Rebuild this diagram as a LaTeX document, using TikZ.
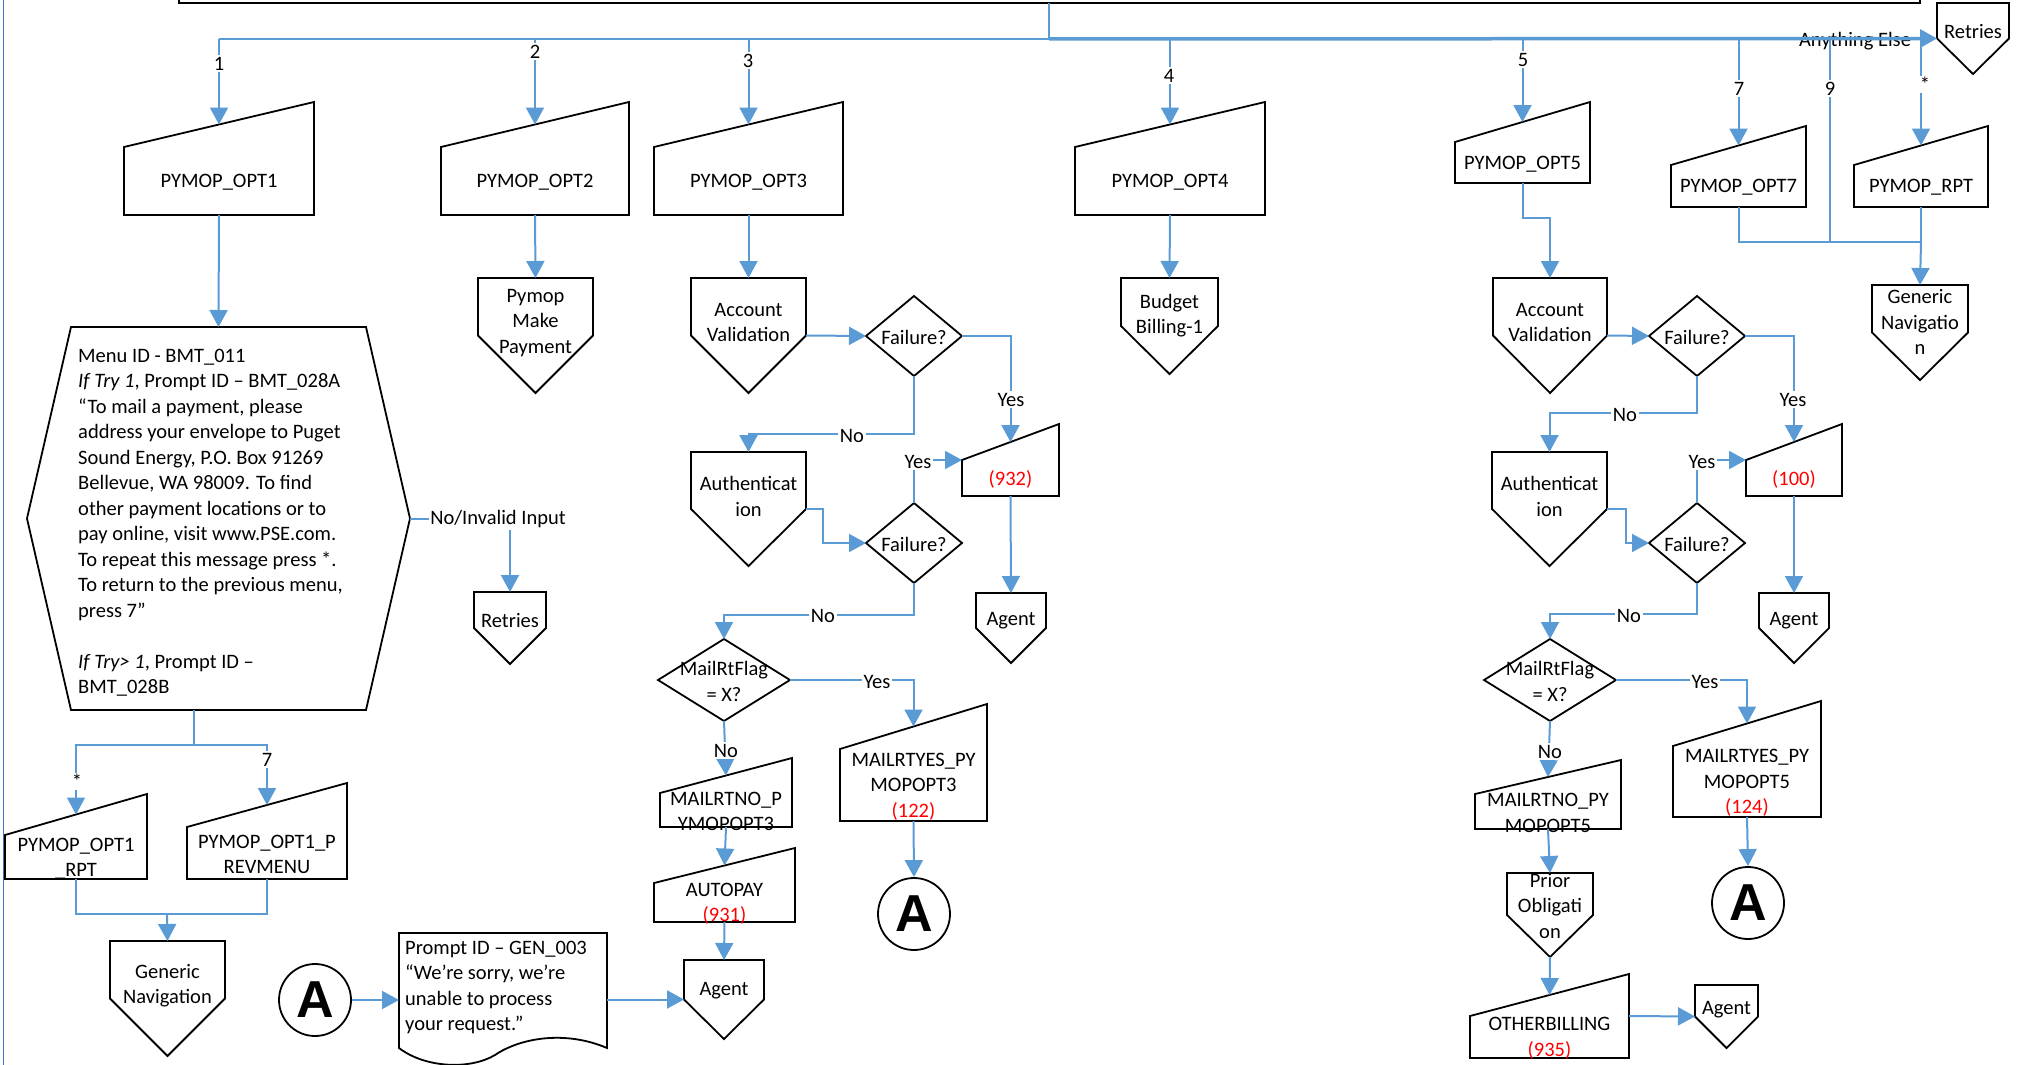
\documentclass[tikz,border=0pt]{standalone}
\usepackage{fontspec}
\setmainfont{Carlito}
\newfontfamily\connfont{Liberation Sans}
\usetikzlibrary{arrows.meta,calc}

\definecolor{flow}{HTML}{5B9BD5}
\definecolor{rim}{HTML}{4472C4}
\definecolor{warn}{HTML}{FF0000}

\tikzset{
  txt/.style={font=\fontsize{20.5}{25.5}\selectfont, align=center, inner sep=0pt, yshift=-1.5pt},
  frame/.style={rectangle, draw=none, inner sep=0pt, outer sep=0pt},
  outline/.style={draw=black, line width=1.8pt, line join=miter, fill=white},
  conn/.style={draw=flow, line width=2pt},
  arr/.style={conn, -{Triangle[length=17pt,width=18pt]}},
  lbl/.style={txt, fill=white, inner sep=1.5pt},
  connector/.style={draw=black, line width=1.8pt, circle, fill=white, minimum size=72pt,
    inner sep=0pt, font=\connfont\bfseries\fontsize{52}{52}\selectfont},
}

% manual input: name, left, right, y top-left, y top-right, bottom, text
\newcommand\minput[7]{%
  \node[frame, minimum width={#3-#2}, minimum height={#6-#5}, anchor=north west] (#1) at (#2,#5) {};
  \coordinate (#1-in) at ({(#2+#3)/2},{(#4+#5)/2});
  \draw[outline] (#2,#4) -- (#3,#5) -- (#3,#6) -- (#2,#6) -- cycle;
  \node[txt] (#1-t) at ({(#2+#3)/2},{(#4+#6)/2}) {#7};
}
% off-page reference: name, left, right, top, tip, text
\newcommand\offpg[6]{%
  \node[frame, minimum width={#3-#2}, minimum height={#5-#4}, anchor=north west] (#1) at (#2,#4) {};
  \draw[outline] (#1.north west) -- (#1.north east) -- (#1.east) -- (#1.south) -- (#1.west) -- cycle;
  \node[txt] (#1-t) at ($(#1.north)!0.375!(#1.south)$) {#6};
}
% decision: name, cx, cy, half width, half height, text
\newcommand\dmd[6]{%
  \node[frame, minimum width={2*#4}, minimum height={2*#5}] (#1) at (#2,#3) {};
  \draw[outline] (#1.north) -- (#1.east) -- (#1.south) -- (#1.west) -- cycle;
  \node[txt] (#1-t) at (#1) {#6};
}
\newcommand\red[1]{{\color{warn}#1}}

\begin{document}
\begin{tikzpicture}[x=1pt,y=-1pt]
\useasboundingbox (0,0) rectangle (2021,1065);

% outer frame pieces
\draw[rim, line width=1.3pt] (3.5,0) -- (3.5,1065);
\node[frame, draw=black, line width=1.8pt, minimum width=1741, minimum height=40, anchor=south west] (main) at (179,3) {};

% ---- option row ----
\minput{opt1}{124}{314}{147}{102}{215}{PYMOP\_OPT1}
\minput{opt2}{441}{629}{147}{102}{215}{PYMOP\_OPT2}
\minput{opt3}{654}{843}{147}{102}{215}{PYMOP\_OPT3}
\minput{opt4}{1075}{1265}{147}{102}{215}{PYMOP\_OPT4}
\minput{opt5}{1455}{1590}{142}{102}{183}{PYMOP\_OPT5}
\minput{opt7}{1671}{1806}{165}{126}{207}{PYMOP\_OPT7}
\minput{rpt}{1854}{1988}{165}{126}{207}{PYMOP\_RPT}
\offpg{retry0}{1937}{2009}{3}{74}{Retries}

% ---- option 1 ----
\node[frame, minimum width=383, minimum height=383, anchor=north west] (menu) at (27,327) {};
\draw[outline] (71,327) -- (366,327) -- (menu.east) -- (366,710) -- (71,710) -- (menu.west) -- cycle;
\node[txt, align=left, anchor=west] (menu-t) at (78,521) {%
Menu ID - BMT\_011\\
\textit{If Try 1}, Prompt ID – BMT\_028A\\
“To mail a payment, please\\
address your envelope to Puget\\
Sound Energy, P.O. Box 91269\\
Bellevue, WA 98009. To find\\
other payment locations or to\\
pay online, visit www.PSE.com.\\
To repeat this message press *.\\
To return to the previous menu,\\
press 7”\\
\mbox{}\\
\textit{If Try> 1}, Prompt ID –\\
BMT\_028B};
\offpg{retry1}{474}{546}{592}{664}{Retries}
\minput{o1rpt}{5}{147}{835}{794}{879}{PYMOP\_OPT1\\\_RPT}
\minput{o1prev}{187}{347}{827}{783}{879}{PYMOP\_OPT1\_P\\REVMENU}
\offpg{gen1}{110}{225}{941}{1056}{Generic\\Navigation}

% ---- option 2 ----
\offpg{pay}{478}{593}{278}{393}{Pymop\\Make\\Payment}

% ---- option 3 ----
\offpg{av1}{691}{806}{278}{393}{Account\\Validation}
\dmd{f1}{914}{336}{48}{40}{Failure?}
\offpg{auth1}{691}{806}{452}{566}{Authenticat\\ion}
\dmd{f2}{914}{543}{48}{40}{Failure?}
\minput{c932}{962}{1059}{460}{424}{496}{\red{(932)}}
\offpg{agent1}{976}{1046}{593}{663}{Agent}
\dmd{m3}{724}{680}{66}{41}{MailRtFlag\\= X?}
\minput{no3}{660}{792}{793}{758}{827}{MAILRTNO\_P\\YMOPOPT3}
\minput{autopay}{654}{795}{883}{848}{922}{AUTOPAY\\\red{(931)}}
\offpg{agent2}{684}{764}{960}{1039}{Agent}
\minput{yes3}{840}{987}{749}{704}{821}{MAILRTYES\_PY\\MOPOPT3\\\red{(122)}}
\node[connector] (a2) at (914,914) {A};

% error prompt
\node[connector] (a1) at (315,1000) {A};
\node[frame, minimum width=208, minimum height=115, anchor=north west] (doc) at (399,933) {};
\draw[outline] (doc.south west) .. controls (425,1068) and (470,1070) .. (495,1055)
  .. controls (520,1038) and (565,1030) .. (doc.south east) -- (doc.north east) -- (doc.north west) -- cycle;
\node[txt, align=left, anchor=north west] (doc-t) at (405,939) {%
Prompt ID – GEN\_003\\
“We're sorry, we're\\
unable to process\\
your request.”};

% ---- option 4 ----
\offpg{bud}{1121}{1218}{278}{374}{Budget\\Billing-1}

% ---- option 5 ----
\offpg{av2}{1493}{1607}{278}{393}{Account\\Validation}
\dmd{f3}{1697}{336}{48}{40}{Failure?}
\offpg{auth2}{1492}{1607}{452}{566}{Authenticat\\ion}
\dmd{f4}{1697}{543}{48}{40}{Failure?}
\minput{c100}{1746}{1842}{460}{424}{496}{\red{(100)}}
\offpg{agent3}{1759}{1829}{593}{663}{Agent}
\dmd{m5}{1550}{680}{66}{41}{MailRtFlag\\= X?}
\minput{no5}{1475}{1621}{794}{760}{829}{MAILRTNO\_PY\\MOPOPT5}
\offpg{prior}{1507}{1593}{873}{957}{Prior\\Obligati\\on}
\minput{other}{1470}{1629}{1016}{974}{1058}{OTHERBILLING\\\red{(935)}}
\offpg{agent4}{1695}{1758}{985}{1048}{Agent}
\minput{yes5}{1673}{1821}{746}{701}{817}{MAILRTYES\_PY\\MOPOPT5\\\red{(124)}}
\node[connector] (a3) at (1748,903) {A};

% ---- options 7, 9, * ----
\offpg{gen2}{1872}{1968}{285}{380}{Generic\\Navigatio\\n}

% ================= connectors =================
\coordinate (busjoin) at (1049,39);
\coordinate (b9) at (1830,242);
\coordinate (mjoin) at (1921,242);
\coordinate (msplit) at (194,745);
\coordinate (gjoin) at (167,914);

\node[txt] (l-else) at (1855,40) {Anything Else};
\draw[conn] (main.south -| busjoin) -- (busjoin);
\draw[conn] (busjoin) -- (busjoin -| opt1-in);
\draw[conn, line width=3.5pt, -{Triangle[length=17pt,width=18pt]}] (busjoin) -- (retry0.west);
\foreach \b in {opt1,opt2,opt3,opt4,opt5,opt7,rpt}
  \draw[arr] (busjoin -| \b-in) -- (\b-in);
\draw[conn] (busjoin -| b9) -- (b9);
\draw[conn] (opt7.south) |- (mjoin);
\draw[conn] (rpt.south) -- (mjoin);
\draw[arr] (mjoin) -- (gen2.north);

% option 1
\draw[arr] (opt1.south) -- (menu.north);
\draw[arr] (menu.east) -| (retry1.north);
\draw[conn] (menu.south -| msplit) -- (msplit);
\draw[arr] (msplit) -| (o1rpt-in);
\draw[arr] (msplit) -| (o1prev-in);
\draw[conn] (o1rpt.south) |- (gjoin -| o1prev.south) -- (o1prev.south);
\draw[arr] (gjoin) -- (gen1.north);

% option 2
\draw[arr] (opt2.south) -- (pay.north);

% option 3
\draw[arr] (opt3.south) -- (av1.north);
\draw[arr] (av1.east) -- (f1.west);
\draw[arr] (f1.east) -| (c932-in);
\draw[arr] (f1.south) -- ++(0,58) -| (auth1.north);
\draw[arr] (auth1.east) -- ++(17,0) |- (f2.west);
\draw[arr] (f2.north) |- (c932.west);
\draw[arr] (c932.south) -- (agent1.north);
\draw[arr] (f2.south) -- ++(0,32) -| (m3.north);
\draw[arr] (m3.east) -| (yes3-in);
\draw[arr] (m3.south) -- (no3-in);
\draw[arr] (no3.south) -- (autopay-in);
\draw[arr] (autopay.south) -- (agent2.north);
\draw[arr] (yes3.south) -- (a2.north);
\draw[arr] (a1.east) -- (a1.east -| doc.west);
\draw[arr] (agent2.west -| doc.east) -- (agent2.west);

% option 4
\draw[arr] (opt4.south) -- (bud.north);

% option 5
\draw[arr] (opt5.south) -- ++(0,35) -| (av2.north);
\draw[arr] (av2.east) -- (f3.west);
\draw[arr] (f3.east) -| (c100-in);
\draw[arr] (f3.south) -- ++(0,37) -| (auth2.north);
\draw[arr] (auth2.east) -- ++(19,0) |- (f4.west);
\draw[arr] (f4.north) |- (c100.west);
\draw[arr] (c100.south) -- (agent3.north);
\draw[arr] (f4.south) -- ++(0,31) -| (m5.north);
\draw[arr] (m5.east) -| (yes5-in);
\draw[arr] (m5.south) -- (no5-in);
\draw[arr] (no5.south) -- (prior.north);
\draw[arr] (prior.south) -- (other-in);
\draw[arr] (other.east) -- (agent4.west);
\draw[arr] (yes5.south) -- (a3.north);

% ================= labels =================
\node[lbl] (l1) at (219,62) {1};
\node[lbl] (l2) at (535,50) {2};
\node[lbl] (l3) at (748,59) {3};
\node[lbl] (l4) at (1169,74) {4};
\node[lbl] (l5) at (1523,58) {5};
\node[lbl] (l7) at (1739,87) {7};
\node[lbl] (l9) at (1830,87) {9};
\node[lbl] (lst) at (1925,83) {*};
\node[lbl] (l-inv) at (498,518) {No/Invalid Input};
\node[lbl] (l-st1) at (77,780) {*};
\node[lbl] (l-71) at (267,758) {7};
\node[lbl] (y1) at (1011,398) {Yes};
\node[lbl] (n1) at (852,434) {No};
\node[lbl] (y2) at (918,460) {Yes};
\node[lbl] (n2) at (823,614) {No};
\node[lbl] (y3) at (877,680) {Yes};
\node[lbl] (n3) at (726,749) {No};
\node[lbl] (y4) at (1793,398) {Yes};
\node[lbl] (n4) at (1625,413) {No};
\node[lbl] (y5) at (1702,460) {Yes};
\node[lbl] (n5) at (1629,614) {No};
\node[lbl] (y6) at (1705,680) {Yes};
\node[lbl] (n6) at (1550,750) {No};
\end{tikzpicture}
\end{document}
